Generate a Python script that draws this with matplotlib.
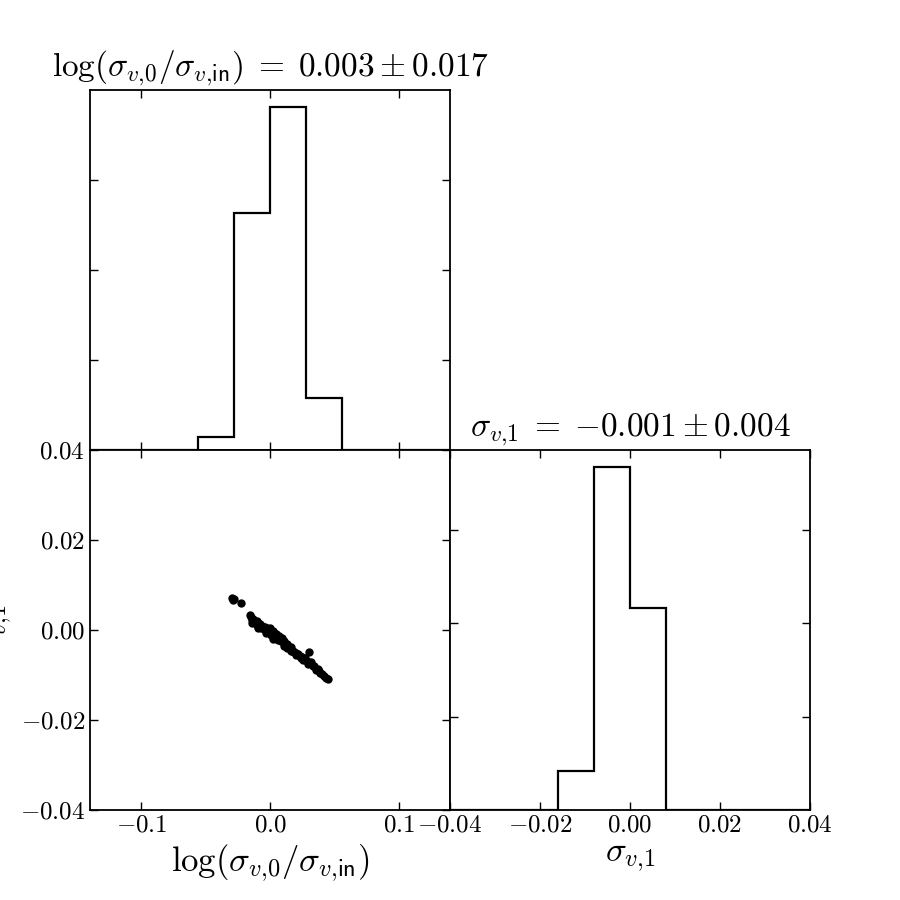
import numpy as np
import matplotlib
matplotlib.use('Agg')
import matplotlib.pyplot as plt

# ********** data read off the reference *********************
# histogram of log(sigma_v0 / sigma_v,in), density per bin
logsig_edges = [-0.14, -0.112, -0.084, -0.056, -0.028, 0.0, 0.028, 0.056, 0.084, 0.112, 0.14]
logsig_density = [0.0, 0.0, 0.0, 0.72, 13.2, 19.06, 2.89, 0.0, 0.0, 0.0]

# histogram of sigma_v1, density per bin
sig1_edges = [-0.04, -0.032, -0.024, -0.016, -0.008, 0.0, 0.008, 0.016, 0.024, 0.032, 0.04]
sig1_density = [0.0, 0.0, 0.0, 8.35, 73.4, 43.3, 0.0, 0.0, 0.0, 0.0]

# joint samples
logsig_samples = [-0.0296, -0.0285, -0.0278, -0.0226, -0.0156, -0.0150, -0.0140, -0.0132,
                  -0.0118, -0.0109, -0.0100, -0.0092, -0.0085, -0.0078, -0.0070, -0.0062,
                  -0.0055, -0.0047, -0.0039, -0.0031, -0.0023, -0.0016, -0.0008, 0.0,
                  0.0008, 0.0016, 0.0024, 0.0031, 0.0039, 0.0047, 0.0055, 0.0062,
                  0.0070, 0.0078, 0.0086, 0.0094, 0.0101, 0.0109, 0.0117, 0.0125,
                  0.0133, 0.0140, 0.0148, 0.0156, 0.0164, 0.0172, 0.0179, 0.0190,
                  0.0202, 0.0215, 0.0233, 0.0245, 0.0257, 0.0275, 0.0296, 0.0303,
                  0.0320, 0.0335, 0.0358, 0.0370, 0.0389, 0.0405, 0.0420, 0.0437, 0.0451,
                  -0.0140, -0.0090, -0.0030, 0.0020, 0.0060, 0.0110, 0.0160, 0.0200,
                  0.0240, 0.0290, 0.0340, 0.0380, -0.0100, 0.0050, 0.0130]
sig1_samples = [0.0071, 0.0067, 0.0069, 0.0060, 0.0033, 0.0028, 0.0022, 0.0025,
                0.0019, 0.0018, 0.0012, 0.0016, 0.0011, 0.0013, 0.0005, 0.0010,
                0.0006, 0.0002, 0.0007, -0.0002, 0.0004, 0.0000, -0.0004, 0.0004,
                -0.0010, -0.0007, -0.0003, -0.0016, -0.0011, -0.0009, -0.0019, -0.0016,
                -0.0014, -0.0022, -0.0025, -0.0018, -0.0027, -0.0024, -0.0031, -0.0033,
                -0.0030, -0.0036, -0.0041, -0.0040, -0.0038, -0.0046, -0.0047, -0.0049,
                -0.0051, -0.0054, -0.0058, -0.0061, -0.0067, -0.0063, -0.0076, -0.0049,
                -0.0071, -0.0080, -0.0089, -0.0086, -0.0096, -0.0098, -0.0102, -0.0107, -0.0109,
                0.0015, 0.0004, -0.0007, -0.0019, -0.0023, -0.0036, -0.0047, -0.0056,
                -0.0063, -0.0069, -0.0081, -0.0092, 0.0020, -0.0009, -0.0039]

title_left = r'$\log(\sigma_{v{,}0}/\sigma_{v{,}\mathsf{in}})\;=\;0.003\pm0.017$'
title_right = r'$\sigma_{v{,}1}\;=\;{-}0.001\pm0.004$'
label_x0 = r'$\log(\sigma_{v{,}0}/\sigma_{v{,}\mathsf{in}})$'
label_x1 = r'$\sigma_{v{,}1}$'
# ****************************************

plt.rcParams['mathtext.fontset'] = 'cm'
plt.rcParams['font.family'] = 'serif'
plt.rcParams['font.serif'] = ['cmr10']
plt.rcParams['axes.formatter.use_mathtext'] = True
plt.rcParams['axes.linewidth'] = 1.3


def style(ax):
    ax.tick_params(direction='in', top=True, right=True, length=6, width=1.0,
                   labelsize=18)


fig, axes = plt.subplots(2, 2, figsize=(9, 9), dpi=100)
fig.subplots_adjust(left=0.1, right=0.9, bottom=0.1, top=0.9, wspace=0, hspace=0)

# top-left: marginal of log(sigma ratio)
ax = axes[0, 0]
ax.stairs(logsig_density, logsig_edges, color='k', lw=1.6)
ax.set_xlim(-0.14, 0.14)
ax.set_ylim(0, 1.05 * max(logsig_density))
ax.set_xticks([-0.1, 0.0, 0.1])
ax.set_yticks([5, 10, 15])
ax.set_xticklabels([])
ax.set_yticklabels([])
ax.set_title(title_left, fontsize=24, pad=10)
style(ax)

axes[0, 1].axis('off')

# bottom-left: joint samples
ax = axes[1, 0]
ax.plot(logsig_samples, sig1_samples, 'o', color='k', ms=6, mew=0)
ax.set_xlim(-0.14, 0.14)
ax.set_ylim(-0.04, 0.04)
ax.set_xticks([-0.1, 0.0, 0.1])
ax.set_yticks([-0.04, -0.02, 0.0, 0.02, 0.04])
ax.set_xlabel(label_x0, fontsize=25)
ax.set_ylabel(label_x1, fontsize=25)
style(ax)

# bottom-right: marginal of sigma_v1
ax = axes[1, 1]
ax.stairs(sig1_density, sig1_edges, color='k', lw=1.6)
ax.set_xlim(-0.04, 0.04)
ax.set_ylim(0, 1.05 * max(sig1_density))
ax.set_xticks([-0.04, -0.02, 0.0, 0.02, 0.04])
ax.set_yticks([20, 40, 60])
ax.set_yticklabels([])
ax.set_xlabel(label_x1, fontsize=25)
ax.set_title(title_right, fontsize=24, pad=10)
style(ax)

fig.savefig('out.png', dpi=100)
